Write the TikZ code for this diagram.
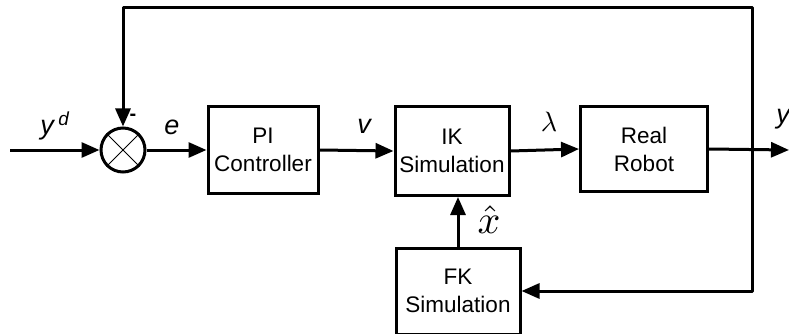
\documentclass[tikz,border=0pt]{standalone}
\usepackage{fontspec}
\setmainfont{Liberation Sans}
\usetikzlibrary{calc}
\usetikzlibrary{arrows.meta}

\tikzset{
  blk/.style={draw, line width=3pt, align=center, inner sep=0pt, font=\fontsize{22.5}{28}\selectfont},
  sig/.style={line width=3pt, -{Triangle[length=18pt,width=15pt]}},
  lbl/.style={font=\fontsize{27}{30}\selectfont\itshape, inner sep=0pt}
}

\begin{document}
\begin{tikzpicture} [x=1pt, y=-1pt]
\useasboundingbox (0,0) rectangle (789,334);

% blocks
\node[draw, circle, line width=3pt, minimum size=44pt, inner sep=0pt] (sum) at (123,150) {};
\draw[line width=1pt] (sum.north west)--(sum.south east) (sum.north east)--(sum.south west);
\node[blk, minimum width=110pt, minimum height=86pt] (pi) at (263,150) {PI\\Controller};
\node[blk, minimum width=114pt, minimum height=89pt] (ik) at (452,151) {IK\\Simulation};
\node[blk, minimum width=127pt, minimum height=84pt] (robot) at (644,149) {Real\\Robot};
\node[blk, minimum width=124pt, minimum height=86pt] (fk) at (458,291) {FK\\Simulation};

% feedback corners
\coordinate (in) at (10,150);
\coordinate (out) at (789,150);
\coordinate (tl) at (123,8);
\coordinate (tr) at (752,8);
\coordinate (br) at (752,291);

% signals
\draw[sig] (in) -- (sum.west);
\draw[sig] (sum.east) -- (pi.west);
\draw[sig] (pi.east) -- (ik.west);
\draw[sig] (ik.east) -- (robot.west);
\draw[sig] (robot.east) -- (out);
\draw[sig] (fk.north) -- (fk.north |- ik.south);
\draw[sig, {Triangle[length=18pt,width=15pt]}-{Triangle[length=18pt,width=15pt]}, line join=round] (fk.east) -- (br) -- (tr) -- (tl) -- (sum.north);

% labels
\node[lbl] (yd) at (55,126) {y\,\textsuperscript{d}};
\node[font=\bfseries\fontsize{20}{22}\selectfont, inner sep=0pt] (minus) at (133,117) {-};
\node[lbl] (e) at (172,127) {e};
\node[lbl] (v) at (364,126) {v};
\node[inner sep=0pt] (lam) at (549,122) {\scalebox{2.8}{$\lambda$}};
\node[inner sep=0pt] (xh) at (489,220) {\scalebox{4}{$\hat{x}$}};
\node[lbl] (y) at (783,119) {y};

\end{tikzpicture}
\end{document}
